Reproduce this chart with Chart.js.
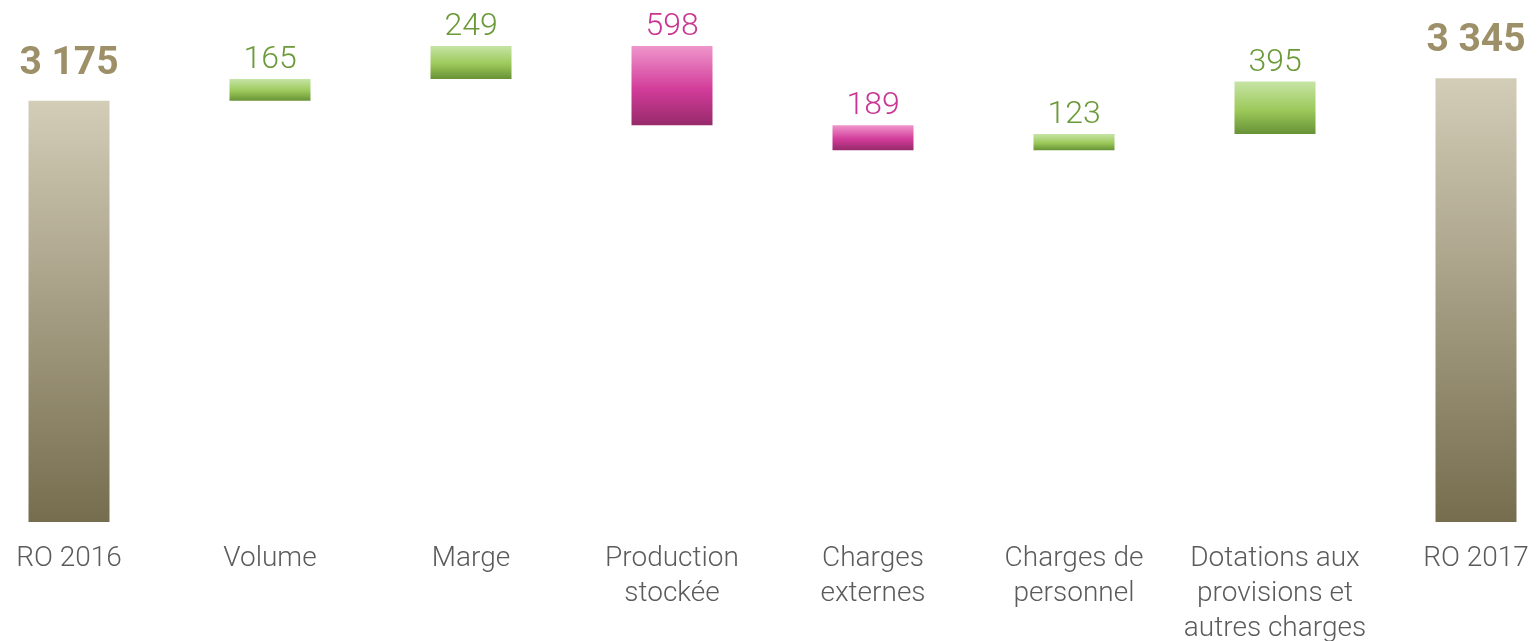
<!DOCTYPE html>
<html>
<head>
<meta charset="utf-8">
<script src="https://cdn.jsdelivr.net/npm/chart.js@4/dist/chart.umd.min.js"></script>
<style>
  html, body { margin: 0; padding: 0; background: #ffffff; }
  #wrap { width: 1537px; height: 641px; position: relative; }
</style>
</head>
<body>
<div id="wrap"><canvas id="c"></canvas></div>
<script>
// ---- Data ----
const categories = [
  'RO 2016',
  'Volume',
  'Marge',
  ['Production', 'stockée'],
  ['Charges', 'externes'],
  ['Charges de', 'personnel'],
  ['Dotations aux', 'provisions et', 'autres charges'],
  'RO 2017'
];
const changes = [3175, 165, 249, -598, -189, 123, 395, 3345];
const kinds = ['total', 'up', 'up', 'down', 'down', 'up', 'up', 'total'];
const valueLabels = ['3 175', '165', '249', '598', '189', '123', '395', '3 345'];

// floating ranges built from the changes
const ranges = [];
let running = 0;
changes.forEach((v, i) => {
  if (kinds[i] === 'total') { ranges.push([0, v]); running = v; }
  else { const lo = running, hi = running + v; ranges.push([Math.min(lo, hi), Math.max(lo, hi)]); running = hi; }
});

// ---- Styles ----
const gradientStops = {
  total: [[0, '#d3ccb7'], [1, '#766d4e']],
  up:    [[0, '#c6e4a5'], [0.55, '#9cc95a'], [1, '#679236']],
  down:  [[0, '#ef96cb'], [0.55, '#d23c9a'], [1, '#962a6a']]
};
const textColors = { total: '#9d9068', up: '#6b9a38', down: '#c93592' };

const valueLabelPlugin = {
  id: 'valueLabels',
  afterDatasetsDraw(chart) {
    const ctx = chart.ctx;
    const meta = chart.getDatasetMeta(0);
    ctx.save();
    ctx.textAlign = 'center';
    ctx.textBaseline = 'alphabetic';
    meta.data.forEach((el, i) => {
      const top = Math.min(el.y, el.base);
      const k = kinds[i];
      ctx.fillStyle = textColors[k];
      if (k === 'total') {
        ctx.font = 'bold 39px Roboto, "DejaVu Sans", sans-serif';
        ctx.fillText(valueLabels[i], el.x, top - 27);
      } else {
        ctx.font = '300 32px Roboto, "DejaVu Sans", sans-serif';
        ctx.fillText(valueLabels[i], el.x, top - 11);
      }
    });
    ctx.restore();
  }
};

new Chart(document.getElementById('c'), {
  type: 'bar',
  data: {
    labels: categories,
    datasets: [{
      data: ranges,
      borderSkipped: false,
      borderWidth: 0,
      categoryPercentage: 1,
      barPercentage: 0.403,
      clip: false,
      backgroundColor: (c) => {
        const chart = c.chart;
        const i = c.dataIndex;
        const k = kinds[i] || 'total';
        if (!chart.chartArea || c.type !== 'data' || !chart.scales.y) return gradientStops[k][0][1];
        const y = chart.scales.y;
        const top = y.getPixelForValue(ranges[i][1]);
        const bottom = y.getPixelForValue(ranges[i][0]);
        const g = chart.ctx.createLinearGradient(0, top, 0, bottom);
        gradientStops[k].forEach(s => g.addColorStop(s[0], s[1]));
        return g;
      }
    }]
  },
  options: {
    responsive: true,
    maintainAspectRatio: false,
    animation: false,
    layout: { padding: { left: 69, right: 61, top: 0, bottom: 0 } },
    plugins: { legend: { display: false }, tooltip: { enabled: false } },
    scales: {
      x: {
        offset: false,
        grid: { display: false, drawTicks: false },
        border: { display: false },
        ticks: {
          padding: 19,
          color: '#5b5b5b',
          maxRotation: 0,
          autoSkip: false,
          font: { family: 'Roboto, "DejaVu Sans", sans-serif', size: 28, weight: '300', lineHeight: 1.25 }
        },
        afterFit(scale) {
          scale.height = 119;
          scale.paddingLeft = 0;
          scale.paddingRight = 0;
        }
      },
      y: {
        display: false,
        min: 0,
        max: 3935
      }
    }
  },
  plugins: [valueLabelPlugin]
});
</script>
</body>
</html>
